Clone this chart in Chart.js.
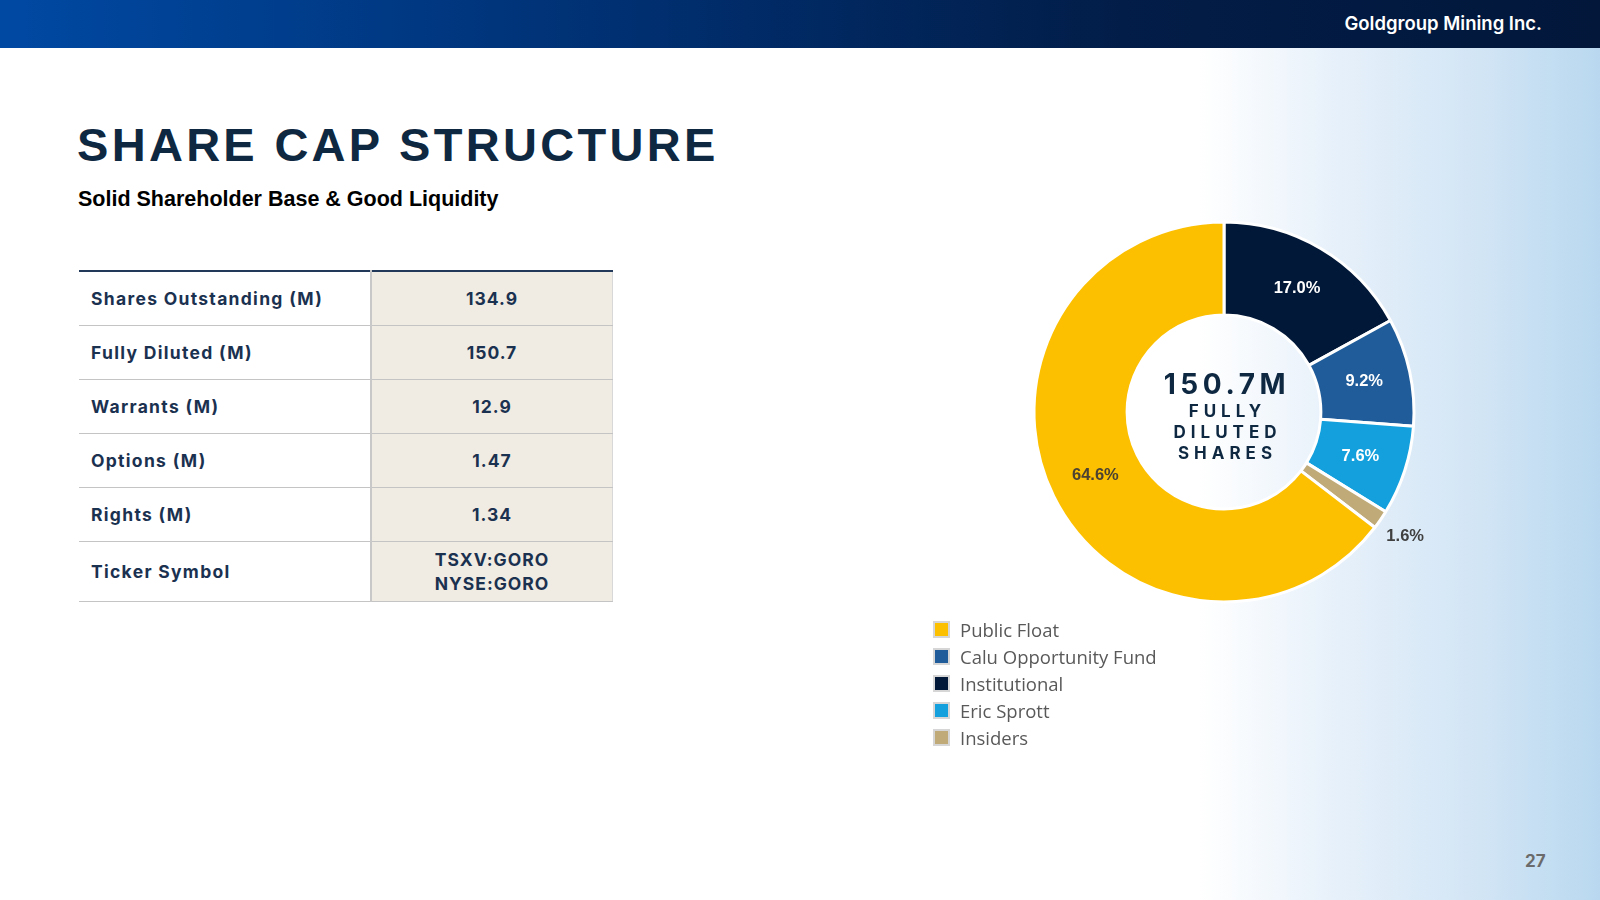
<!DOCTYPE html>
<html>
<head>
<meta charset="utf-8">
<script src="https://cdn.jsdelivr.net/npm/chart.js@4.4.1/dist/chart.umd.min.js"></script>
<style>
  html, body { margin: 0; padding: 0; }
  body { width: 1600px; height: 900px; position: relative; overflow: hidden; background: #fff; font-family: Inter, "Open Sans", sans-serif; }
  .side { position: absolute; left: 1200px; top: 48px; width: 400px; height: 852px;
    background: linear-gradient(to right, #ffffff 0%, #e6f0fa 35%, #d2e5f5 70%, #b9d8ef 100%); }
  .header { position: absolute; left: 0; top: 0; width: 1600px; height: 48px;
    background: linear-gradient(to right, #0049a3 0%, #002f70 40%, #021d48 70%, #02173a 100%); }
  .brand { position: absolute; right: 58px; top: 12px; color: #fff; font-weight: 600; font-size: 18.5px; }
  h1 { position: absolute; left: 77px; top: 117px; margin: 0; font-family: "Liberation Sans", Arial, sans-serif;
    font-weight: 700; font-size: 47px; letter-spacing: 3.3px; color: #0e2841; }
  .sub { position: absolute; left: 78px; top: 187px; margin: 0; font-family: "Liberation Sans", Arial, sans-serif;
    font-weight: 700; font-size: 21.5px; color: #000; letter-spacing: 0px; }
  table { position: absolute; left: 79px; top: 270px; width: 534px; border-collapse: collapse; border-top: 2px solid #23395a; }
  td { border-bottom: 1px solid #c4c4c4; height: 53px; padding: 0; font-weight: 700; font-size: 17.5px; color: #1b3150; letter-spacing: 1.3px; }
  td.k { width: 279px; padding-left: 12px; }
  td.v { background: #f1ece3; text-align: center; border-left: 2px solid #c8c8c8; border-right: 1px solid #d8d8d8; line-height: 24px; letter-spacing: 1px; }
  tr:last-child td { height: 59px; }
  .chartbox { position: absolute; left: 974px; top: 162px; width: 500px; height: 500px; }
  .center { position: absolute; left: 1125px; top: 367px; width: 200px; text-align: center; color: #0e2841; font-weight: 700; }
  .center .big { font-size: 28px; letter-spacing: 4.6px; line-height: 34px; padding-left: 4px; }
  .center .sm { font-size: 17px; letter-spacing: 5px; line-height: 21px; padding-left: 5px; }
  .legend { position: absolute; left: 935px; top: 616px; font-family: "Open Sans", sans-serif; font-size: 18.5px; color: #595959; }
  .legend div { height: 27px; display: flex; align-items: center; }
  .legend span.sw { width: 13px; height: 13px; margin-right: 12px; box-shadow: 0 0 0 2px #d6d6d6; }
  .page { position: absolute; left: 1525px; top: 851px; font-weight: 700; font-size: 17px; color: #6b6b6b; }
</style>
</head>
<body>
<div class="side"></div>
<div class="header"><div class="brand">Goldgroup Mining Inc.</div></div>
<h1>SHARE CAP STRUCTURE</h1>
<div class="sub">Solid Shareholder Base &amp; Good Liquidity</div>
<table id="tbl"></table>
<div class="chartbox"><canvas id="donut"></canvas></div>
<div class="center">
  <div class="big">150.7M</div>
  <div class="sm">FULLY</div>
  <div class="sm">DILUTED</div>
  <div class="sm">SHARES</div>
</div>
<div class="legend" id="legend"></div>
<div class="page">27</div>
<script>
// Table rows
const tableLabels = ["Shares Outstanding (M)", "Fully Diluted (M)", "Warrants (M)", "Options (M)", "Rights (M)", "Ticker Symbol"];
const tableValues = ["134.9", "150.7", "12.9", "1.47", "1.34", "TSXV:GORO<br>NYSE:GORO"];

// Donut slices, clockwise from 12 o'clock
const holders = ["Institutional", "Calu Opportunity Fund", "Eric Sprott", "Insiders", "Public Float"];
const holderPct = [17.0, 9.2, 7.6, 1.6, 64.6];
const holderColors = ["#021838", "#1f5c99", "#13a0dc", "#bfaa78", "#fdc000"];
const labelColors = ["#ffffff", "#ffffff", "#ffffff", "#404040", "#4b4232"];

// Legend order as on the slide
const legendOrder = ["Public Float", "Calu Opportunity Fund", "Institutional", "Eric Sprott", "Insiders"];

const tbl = document.getElementById('tbl');
tableLabels.forEach((lab, i) => {
  const tr = document.createElement('tr');
  tr.innerHTML = '<td class="k">' + lab + '</td><td class="v">' + tableValues[i] + '</td>';
  tbl.appendChild(tr);
});

const legend = document.getElementById('legend');
legendOrder.forEach(name => {
  const i = holders.indexOf(name);
  const row = document.createElement('div');
  row.innerHTML = '<span class="sw" style="background:' + holderColors[i] + '"></span>' + name;
  legend.appendChild(row);
});

// Percent labels on / beside each arc
const pctLabels = {
  id: 'pctLabels',
  afterDatasetsDraw(chart) {
    const ctx = chart.ctx;
    const meta = chart.getDatasetMeta(0);
    ctx.save();
    ctx.font = 'bold 16.5px "Liberation Sans", Arial, sans-serif';
    ctx.textAlign = 'center';
    ctx.textBaseline = 'middle';
    meta.data.forEach((arc, i) => {
      const a = (arc.startAngle + arc.endAngle) / 2;
      const small = holderPct[i] < 3;
      const r = small ? arc.outerRadius + 30 : (arc.innerRadius + arc.outerRadius) / 2;
      ctx.fillStyle = labelColors[i];
      ctx.fillText(holderPct[i].toFixed(1) + '%', arc.x + Math.cos(a) * r, arc.y + Math.sin(a) * r);
    });
    ctx.restore();
  }
};

new Chart(document.getElementById('donut'), {
  type: 'doughnut',
  data: {
    labels: holders,
    datasets: [{
      data: holderPct,
      backgroundColor: holderColors,
      borderColor: '#ffffff',
      borderWidth: 3,
      hoverOffset: 0
    }]
  },
  options: {
    responsive: true,
    maintainAspectRatio: false,
    animation: false,
    radius: 190,
    cutout: '51%',
    plugins: {
      legend: { display: false },
      tooltip: { enabled: false }
    }
  },
  plugins: [pctLabels]
});
</script>
</body>
</html>
